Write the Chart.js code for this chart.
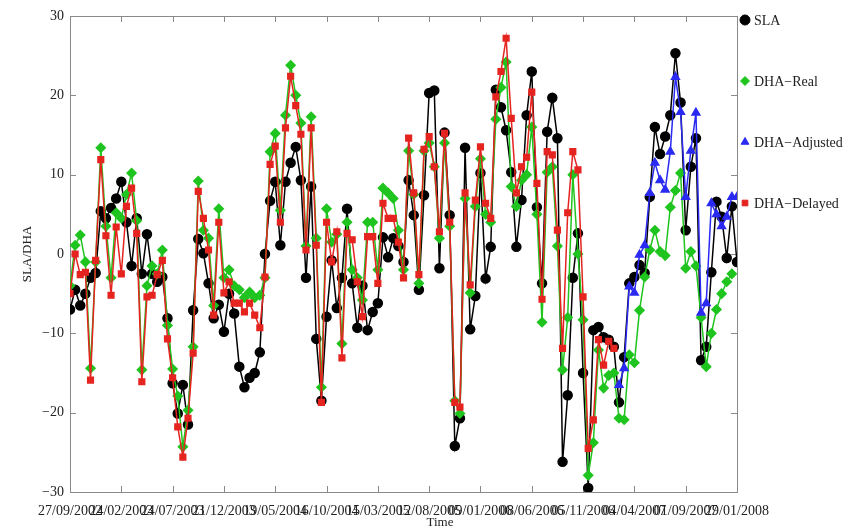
<!DOCTYPE html>
<html lang="en">
<head>
<meta charset="UTF-8">
<title>SLA / DHA</title>
<script src="https://cdn.jsdelivr.net/npm/chart.js"></script>
<style>
  html, body { margin: 0; padding: 0; background: #fff; }
</style>
</head>
<body>
<canvas id="slaChart" width="861" height="531"></canvas>
<script>
  // time axis: days counted from 27/09/2002, samples every 15 days
  const startDate = Date.UTC(2002, 8, 27);
  const stepDays = 15;
  const tickStepDays = 150;
  const axisDays = 1950;

  const seriesLabels = ['SLA', 'DHA\u2212Real', 'DHA\u2212Adjusted', 'DHA\u2212Delayed'];
  const xTitle = 'Time';

  const slaValues = [
    -7.0, -4.5, -6.5, -5.0, -3.0, -2.4, 5.4, 4.5, 5.8, 7.0,
    9.1, 4.0, -1.5, 4.5, -2.5, 2.5, -2.5, -3.5, -2.9, -8.1,
    -16.3, -20.1, -16.5, -21.5, -7.1, 1.9, 0.1, -3.7, -8.1, -6.4,
    -9.8, -5.0, -7.5, -14.2, -16.8, -15.6, -15.0, -12.4, 0.0, 6.7,
    9.1, 1.1, 9.1, 11.5, 13.5, 9.3, -3.0, 8.5, -10.7, -18.5,
    -7.9, -0.8, -6.8, -3.0, 5.7, -3.7, -9.3, -4.0, -9.6, -7.3,
    -6.2, 2.1, -0.4, 2.0, 1.0, -1.0, 9.3, 4.9, -4.5, 7.4,
    20.3, 20.6, -1.8, 15.3, 4.9, -24.2, -20.7, 13.4, -9.5, -5.3,
    10.2, -3.1, 0.9, 20.7, 18.5, 15.6, 10.3, 0.9, 6.8, 17.5,
    23.0, 5.9, -3.7, 15.4, 19.7, 14.6, -26.2, -17.8, -3.0, 2.6,
    -15.0, -29.5, -9.6, -9.2, -10.5, -10.8, -11.7, -18.7, -13.0, -3.7,
    -2.9, -1.4, -2.4, 7.2, 16.0, 12.6, 14.8, 17.5, 25.3, 19.1,
    3.0, 11.0, 14.6, -13.4, -11.7, -2.3, 6.6, 4.7, -0.5, 6.0,
    -1.0
  ];

  const realValues = [
    -4.0, 1.1, 2.4, -1.0, -14.4, -1.0, 13.4, 3.5, -3.0, 5.2,
    4.5, 7.5, 10.2, 4.2, -14.6, -4.0, -1.5, -2.5, 0.5, -9.0,
    -14.5, -17.9, -24.3, -19.7, -11.7, 9.2, 3.0, 2.0, -6.5, 5.7,
    -3.0, -2.0, -4.0, -4.5, -5.5, -4.8, -5.5, -5.2, -3.0, 12.9,
    15.2, 5.5, 17.5, 23.8, 20.0, 16.5, 1.0, 17.3, 2.0, -16.8,
    5.7, 1.5, 2.5, -11.3, 4.0, -2.0, -3.0, -5.8, 4.0, 4.0,
    -2.0, 8.3, 7.7, 7.0, 3.0, -2.0, 13.0, 7.5, -3.7, 13.0,
    14.0, 11.0, 2.0, 14.0, 3.5, -18.5, -20.1, 7.0, -4.9, 6.0,
    12.0, 5.0, 4.0, 17.0, 21.0, 24.2, 8.5, 6.0, 9.3, 10.0,
    16.0, 5.0, -8.6, 10.3, 11.0, 1.0, -14.6, -8.0, 10.0, 0.0,
    -8.3, -27.9, -23.8, -12.1, -16.9, -15.3, -15.0, -20.7, -20.9, -12.7,
    -13.7, -7.1, -2.9, 0.5, 3.0, 0.3, -0.2, 5.9, 8.0, 10.2,
    -1.8, 0.3, -1.5, -8.0, -14.2, -10.0, -7.0, -5.0, -3.5, -2.5
  ];

  const delayedValues = [
    -5.0, 0.0, -2.6, -2.3, -15.9, -0.8, 11.9, 2.3, -5.2, 3.4,
    -2.5, 6.0, 8.3, 2.6, -16.1, -5.4, -5.2, -2.6, -0.8, -10.7,
    -15.6, -21.8, -25.6, -20.7, -12.5, 7.9, 4.5, 0.5, -7.7, 4.0,
    -4.9, -3.5, -6.2, -6.2, -7.3, -6.2, -7.7, -9.3, -2.9, 11.3,
    13.6, 4.0, 15.9, 22.4, 18.7, 15.1, 0.5, 15.9, 1.1, -18.7,
    4.0, -1.0, 2.8, -13.1, 2.6, 1.8, -3.5, -7.9, 2.2, 2.2,
    -3.7, 6.4, 4.5, 4.5, 1.5, -3.0, 14.6, 7.7, -2.6, 13.2,
    14.8, 11.0, 2.8, 15.2, 4.0, -18.7, -19.3, 7.7, -3.9, 6.8,
    13.5, 6.4, 4.5, 19.8, 23.0, 27.2, 17.1, 7.7, 11.0, 12.2,
    20.4, 8.9, -5.7, 12.9, 12.5, 3.0, -11.9, 5.2, 12.9, 10.6,
    -5.4, -24.5, -20.9, -10.8, -14.0, -11.0, -11.9
  ];

  // adjusted series starts at sample 107
  const adjustedStart = 107;
  const adjustedValues = [
    -16.5, -14.4, -4.1, -4.9, -0.1, 1.1, 7.7, 11.5, 9.3, 8.1,
    12.9, 22.3, 17.9, 7.2, 13.0, 17.8, -7.4, -6.2, 6.4, 5.0,
    3.5, 4.7, 7.2, 7.2
  ];

  const fontFamily = '"Liberation Serif", "DejaVu Serif", serif';
  const pad2 = n => (n < 10 ? '0' : '') + n;
  const dayLabel = v => {
    const d = new Date(startDate + v * 86400000);
    return pad2(d.getUTCDate()) + '/' + pad2(d.getUTCMonth() + 1) + '/' + d.getUTCFullYear();
  };
  const toPoints = (vals, offset) => vals.map((v, i) => ({ x: (i + offset) * stepDays, y: v }));

  // box round the plot, tick marks pointing inwards, legend on the right
  const frameTicks = {
    id: 'frameTicks',
    beforeDatasetsDraw(chart) {
      const { ctx, chartArea: a, scales: { x, y } } = chart;
      ctx.save();
      ctx.strokeStyle = '#8a8a8a';
      ctx.lineWidth = 1;
      ctx.strokeRect(a.left + 0.5, a.top + 0.5, a.right - a.left, a.bottom - a.top);
      ctx.beginPath();
      x.ticks.forEach(t => {
        const px = Math.round(x.getPixelForValue(t.value)) + 0.5;
        ctx.moveTo(px, a.bottom); ctx.lineTo(px, a.bottom - 6);
        ctx.moveTo(px, a.top); ctx.lineTo(px, a.top + 6);
      });
      y.ticks.forEach(t => {
        const py = Math.round(y.getPixelForValue(t.value)) + 0.5;
        ctx.moveTo(a.left, py); ctx.lineTo(a.left + 6, py);
        ctx.moveTo(a.right, py); ctx.lineTo(a.right - 6, py);
      });
      ctx.stroke();
      ctx.restore();
    },
    afterDraw(chart) {
      const { ctx, chartArea: a } = chart;
      const rows = [20, 81, 142, 203];
      ctx.save();
      ctx.font = '14px ' + fontFamily;
      ctx.textBaseline = 'middle';
      chart.data.datasets.forEach(ds => {
        const yy = rows[ds.legendRow];
        ctx.fillStyle = ds.backgroundColor;
        ctx.strokeStyle = ds.borderColor;
        Chart.helpers.drawPoint(ctx, { pointStyle: ds.pointStyle, radius: ds.legendRadius, rotation: 0, borderWidth: 1 }, a.right + 8, yy);
        ctx.fillStyle = '#222';
        ctx.fillText(ds.label, a.right + 17, yy + 1);
      });
      // x axis title sits a bit right of the plot centre in the original
      ctx.font = '13px ' + fontFamily;
      ctx.textAlign = 'center';
      ctx.fillText(xTitle, 440, 523);
      ctx.restore();
    }
  };

  new Chart(document.getElementById('slaChart'), {
    type: 'line',
    data: {
      datasets: [
        {
          label: seriesLabels[3], legendRow: 3, legendRadius: 4,
          data: toPoints(delayedValues, 0),
          borderColor: '#e52420', backgroundColor: '#e52420',
          pointStyle: 'rect', pointRadius: 4, borderWidth: 1.5, order: 1
        },
        {
          label: seriesLabels[2], legendRow: 2, legendRadius: 4.5,
          data: toPoints(adjustedValues, adjustedStart),
          borderColor: '#2a2af2', backgroundColor: '#2a2af2',
          pointStyle: 'triangle', pointRadius: 4.5, borderWidth: 1.5, order: 2
        },
        {
          label: seriesLabels[1], legendRow: 1, legendRadius: 4.5,
          data: toPoints(realValues, 0),
          borderColor: '#1fc41f', backgroundColor: '#1fc41f',
          pointStyle: 'rectRot', pointRadius: 4.5, borderWidth: 1.5, order: 3
        },
        {
          label: seriesLabels[0], legendRow: 0, legendRadius: 5,
          data: toPoints(slaValues, 0),
          borderColor: '#000000', backgroundColor: '#000000',
          pointStyle: 'circle', pointRadius: 4.5, borderWidth: 1.5, order: 4
        }
      ]
    },
    options: {
      responsive: false,
      animation: false,
      layout: { padding: { left: 0, right: 124, top: 16, bottom: 0 } },
      plugins: {
        legend: { display: false },
        tooltip: { enabled: false }
      },
      elements: { line: { tension: 0 }, point: { borderWidth: 1 } },
      scales: {
        x: {
          type: 'linear',
          min: 0,
          max: axisDays,
          grid: { display: false, drawTicks: false },
          border: { display: false },
          ticks: {
            stepSize: tickStepDays,
            autoSkip: false,
            maxRotation: 0,
            minRotation: 0,
            padding: 11,
            color: '#222',
            font: { family: fontFamily, size: 14 },
            callback: v => dayLabel(v)
          },
          afterFit: s => { s.height = 39; }
        },
        y: {
          min: -30,
          max: 30,
          grid: { display: false, drawTicks: false },
          border: { display: false },
          ticks: {
            stepSize: 10,
            padding: 6,
            color: '#222',
            font: { family: fontFamily, size: 14 },
            callback: v => String(v).replace('-', '\u2212')
          },
          title: {
            display: true,
            text: 'SLA/DHA',
            color: '#222',
            font: { family: fontFamily, size: 13 },
            padding: { top: 20, bottom: 0 }
          },
          afterFit: s => { s.width = 70; }
        }
      }
    },
    plugins: [frameTicks]
  });
</script>
</body>
</html>
